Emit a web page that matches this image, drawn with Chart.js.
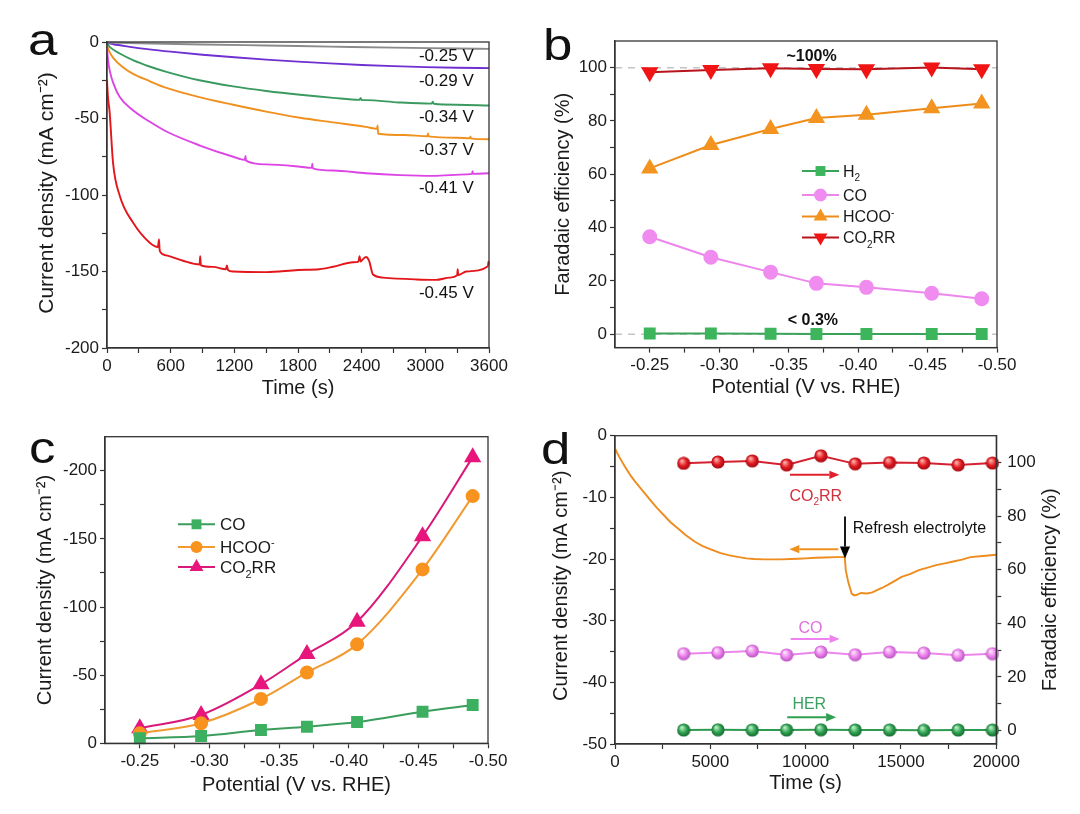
<!DOCTYPE html>
<html><head><meta charset="utf-8">
<script src="https://cdn.jsdelivr.net/npm/chart.js@4.4.1/dist/chart.umd.min.js"></script>
<style>
html,body{margin:0;padding:0;background:#fff;}
#wrap{position:relative;width:1080px;height:814px;overflow:hidden;font-family:'Liberation Sans',Arial,sans-serif;background:#fff;}
canvas{position:absolute;}
.lbl{position:absolute;font-family:'Liberation Sans',Arial,sans-serif;font-size:44px;line-height:1;color:#111;transform:scaleX(1.2);transform-origin:left top;}
</style></head><body><div id="wrap">
<canvas id="ca" width="540" height="400" style="left:0;top:0"></canvas>
<canvas id="cb" width="540" height="400" style="left:540px;top:0"></canvas>
<canvas id="cc" width="540" height="414" style="left:0;top:400px"></canvas>
<canvas id="cd" width="540" height="414" style="left:540px;top:400px"></canvas>
<div class="lbl" style="left:28px;top:18px">a</div>
<div class="lbl" style="left:543px;top:23px">b</div>
<div class="lbl" style="left:29px;top:426px">c</div>
<div class="lbl" style="left:541px;top:427px">d</div>
</div>
<script>
const FONT = "'Liberation Sans', Arial, Helvetica, sans-serif";

// ---------- Panel a: chronoamperometry ----------
const aT025 = [0, 300, 900, 1500, 2100, 2700, 3300, 3600];
const aJ025 = [-0.3, -0.8, -1.6, -2.3, -3.0, -3.7, -4.2, -4.5];
const aT029 = [0, 60, 200, 400, 600, 900, 1200, 1500, 1800, 2100, 2400, 2700, 3000, 3300, 3600];
const aJ029 = [-0.5, -1.5, -3, -4.8, -6.3, -8.3, -10, -11.5, -12.8, -14, -15, -15.8, -16.4, -16.8, -17.1];
const aT034 = [0, 30, 120, 250, 400, 560, 870, 1190, 1500, 1820, 2130, 2380, 2390, 2400, 2440, 2750, 3060, 3070, 3080, 3300, 3600];
const aJ034 = [-1, -3.5, -7.5, -12, -16, -19.5, -25, -29, -32, -34.5, -36.5, -37.8, -36.6, -37.9, -38, -39.5, -40.3, -39.0, -40.4, -41, -41.5];
const aT037 = [0, 20, 60, 150, 250, 400, 560, 870, 1190, 1500, 1820, 2130, 2440, 2545, 2550, 2555, 2800, 3020, 3025, 3030, 3300, 3420, 3425, 3430, 3600];
const aJ037 = [-2, -6, -10.5, -16.5, -21, -25.5, -30, -36, -41, -45.5, -49.5, -52.5, -55.5, -56.8, -54.5, -60, -60.8, -61.6, -59.8, -61.7, -62.6, -62.9, -61.8, -63, -63.6];
const aT041 = [0, 10, 30, 60, 120, 250, 400, 560, 870, 1190, 1300, 1305, 1310, 1500, 1820, 1930, 1935, 1940, 2130, 2440, 2760, 3070, 3390, 3440, 3445, 3450, 3600];
const aJ041 = [-4, -12, -20, -27, -36, -45, -52, -58.5, -67.5, -75, -77, -74.5, -77.5, -80, -81.5, -82.3, -79.5, -82.6, -84, -85.8, -87, -87.5, -86.5, -86.2, -84.5, -86.2, -85.8];
const aT045 = [0, 8, 25, 57, 120, 245, 400, 480, 490, 495, 500, 560, 716, 873, 878, 885, 1000, 1120, 1130, 1140, 1190, 1500, 1800, 2000, 2130, 2320, 2370, 2380, 2390, 2412, 2440, 2470, 2507, 2600, 2915, 3100, 3229, 3300, 3305, 3310, 3386, 3590, 3595, 3600];
const aJ045 = [-25, -35, -46, -79, -100.5, -118, -131, -134, -129, -135, -137, -139.5, -143, -145.4, -140, -146, -147, -148.5, -146, -149, -150, -150.4, -149, -148.5, -146.9, -144, -143.5, -140, -143.5, -142, -140.5, -143, -152, -154, -155.2, -155.5, -154, -152.5, -148.5, -152.3, -150, -146.5, -143.5, -145.5];
const aNames = ['-0.25 V', '-0.29 V', '-0.34 V', '-0.37 V', '-0.41 V', '-0.45 V'];
const aLabelT = [3198, 3198, 3198, 3198, 3198, 3198];
const aLabelJ = [-8.3, -24.5, -48.1, -70, -94.4, -163.3];
const aTimeTicks = [0, 300, 600, 900, 1200, 1500, 1800, 2100, 2400, 2700, 3000, 3300, 3600];
const aTimeLabels = [0, 600, 1200, 1800, 2400, 3000, 3600];
const jTicks200 = [-200, -175, -150, -125, -100, -75, -50, -25, 0];
const jLabels200 = [-200, -150, -100, -50, 0];

// ---------- Panel b / c: potentials ----------
const potentials = [-0.25, -0.294, -0.337, -0.370, -0.406, -0.453, -0.489];
const feH2 = [0.3, 0.3, 0.2, 0.1, 0.1, 0.1, 0.1];
const feCO = [36.6, 28.9, 23.3, 19.1, 17.6, 15.4, 13.3];
const feHCOO = [62.2, 71.0, 77.0, 81.1, 82.3, 84.8, 86.6];
const feCO2RR = [98.3, 99.1, 99.8, 99.5, 99.4, 100.1, 99.4];
const bRefLevels = [100, 0];
const bNames = ['H₂', 'CO', 'HCOO⁻', 'CO₂RR'];
const bLegendRich = ['H_2', 'CO', 'HCOO^-', 'CO_2RR'];
const potTicks = [-0.5, -0.475, -0.45, -0.425, -0.4, -0.375, -0.35, -0.325, -0.3, -0.275, -0.25];
const potLabels = [-0.25, -0.3, -0.35, -0.4, -0.45, -0.5];
const feTicks = [0, 10, 20, 30, 40, 50, 60, 70, 80, 90, 100];
const feLabels = [0, 20, 40, 60, 80, 100];

const jCO = [-3.7, -5.4, -9.8, -12.2, -15.6, -23.2, -28.1];
const jHCOO = [-7.3, -14.7, -32.5, -52.0, -72.6, -127.6, -181.4];
const jCO2RR = [-11.0, -20.8, -43.3, -65.5, -89.2, -152.0, -210.0];
const cNames = ['CO', 'HCOO⁻', 'CO₂RR'];
const cLegendRich = ['CO', 'HCOO^-', 'CO_2RR'];

// ---------- Panel d: stability ----------
const dTime = [0, 100, 217, 400, 578, 850, 1120, 1500, 1843, 2200, 2565, 2900, 3288, 3700, 4191, 4600, 5095, 5500, 5998, 6500, 6901, 7300, 7805, 8300, 8708, 9200, 9612, 10000, 10515, 11000, 11600, 12000, 12050, 12104, 12231, 12411, 12550, 12683, 12900, 13225, 13500, 13767, 14000, 14309, 14700, 15032, 15500, 15935, 16400, 16838, 17300, 17742, 18200, 18645, 19300, 20000];
const dJ = [-2.05, -2.7, -3.4, -4.4, -5.3, -6.6, -7.7, -9.1, -10.4, -11.7, -12.9, -14.0, -15.0, -16.1, -17.2, -17.9, -18.5, -19.0, -19.4, -19.7, -19.9, -20.0, -20.05, -20.05, -20.05, -20.0, -19.95, -19.9, -19.8, -19.75, -19.7, -19.65, -19.6, -21.8, -23.7, -25.6, -25.9, -25.8, -25.5, -25.6, -25.4, -25.0, -24.7, -24.2, -23.5, -22.9, -22.4, -21.8, -21.4, -21.0, -20.7, -20.4, -20.1, -19.7, -19.5, -19.3];
const dFeTime = [3600, 5400, 7200, 9000, 10800, 12600, 14400, 16200, 18000, 19800];
const dFeCO2RR = [99.7, 100.2, 100.6, 99.1, 102.5, 99.5, 100.0, 99.8, 99.1, 99.8];
const dFeCO = [28.7, 29.1, 29.7, 28.2, 29.3, 28.3, 29.3, 28.9, 28.1, 28.7];
const dFeHER = [0.2, 0.3, 0.2, 0.2, 0.3, 0.2, 0.2, 0.1, 0.2, 0.2];
const dTimeTicks = [0, 2500, 5000, 7500, 10000, 12500, 15000, 17500, 20000];
const dTimeLabels = [0, 5000, 10000, 15000, 20000];
const dJTicks = [-50, -45, -40, -35, -30, -25, -20, -15, -10, -5, 0];
const dJLabels = [-50, -40, -30, -20, -10, 0];

// ---------- helpers ----------
function pts(xs, ys) { return xs.map((x, i) => ({ x: x, y: ys[i] })); }

function axis(o) {
  return {
    type: 'linear', position: o.pos, min: o.min, max: o.max, reverse: !!o.reverse,
    afterBuildTicks: s => { s.ticks = o.ticks.map(v => ({ value: v })); },
    afterFit: s => { if (o.w != null) s.width = o.w; if (o.h != null) s.height = o.h; },
    ticks: {
      autoSkip: false, maxRotation: 0, minRotation: 0, padding: o.tpad != null ? o.tpad : 3,
      color: '#1a1a1a', font: { family: FONT, size: 17 },
      callback: v => o.labels.some(l => Math.abs(l - v) < 1e-9) ? o.fmt(v) : ''
    },
    grid: { drawOnChartArea: false, drawTicks: true, tickLength: 5, tickColor: '#333', tickWidth: 1.2 },
    border: { display: true, color: '#333', width: 1.3 },
    title: o.title ? { display: true, text: o.title, color: '#1a1a1a', font: { family: FONT, size: 20 },
      padding: { top: o.ttop || 0, bottom: o.tbot || 0 } } : { display: false }
  };
}

function drawRich(ctx, s, x, y, size, weight, color, align) {
  const segs = [];
  for (let i = 0; i < s.length; i++) {
    const c = s[i];
    if ((c === '_' || c === '^') && i + 1 < s.length) { segs.push({ t: s[i + 1], k: c }); i++; }
    else if (segs.length && segs[segs.length - 1].k === 'n') segs[segs.length - 1].t += c;
    else segs.push({ t: c, k: 'n' });
  }
  const f = k => (weight || 'normal') + ' ' + (k === 'n' ? size : Math.round(size * 0.62)) + 'px ' + FONT;
  let w = 0;
  segs.forEach(g => { ctx.font = f(g.k); g.w = ctx.measureText(g.t).width; w += g.w; });
  let cx = align === 'center' ? x - w / 2 : (align === 'right' ? x - w : x);
  ctx.save(); ctx.fillStyle = color; ctx.textBaseline = 'alphabetic'; ctx.textAlign = 'left';
  const base = y + size * 0.36;
  segs.forEach(g => {
    ctx.font = f(g.k);
    const dy = g.k === '_' ? size * 0.28 : (g.k === '^' ? -size * 0.42 : 0);
    ctx.fillText(g.t, cx, base + dy); cx += g.w;
  });
  ctx.restore();
}

function drawArrow(ctx, x1, y1, x2, y2, color, lw, head) {
  const ang = Math.atan2(y2 - y1, x2 - x1);
  const bx = x2 - Math.cos(ang) * head, by = y2 - Math.sin(ang) * head;
  ctx.save(); ctx.strokeStyle = color; ctx.fillStyle = color; ctx.lineWidth = lw;
  ctx.beginPath(); ctx.moveTo(x1, y1); ctx.lineTo(bx, by); ctx.stroke();
  const hw = head * 0.42;
  ctx.beginPath(); ctx.moveTo(x2, y2);
  ctx.lineTo(bx + Math.sin(ang) * hw, by - Math.cos(ang) * hw);
  ctx.lineTo(bx - Math.sin(ang) * hw, by + Math.cos(ang) * hw);
  ctx.closePath(); ctx.fill(); ctx.restore();
}

function drawMarker(ctx, style, x, y, r, rot, fill) {
  ctx.save(); ctx.fillStyle = fill; ctx.beginPath();
  if (style === 'rect') { const s = Math.SQRT1_2 * r; ctx.rect(x - s, y - s, 2 * s, 2 * s); }
  else if (style === 'circle') { ctx.arc(x, y, r, 0, Math.PI * 2); }
  else if (style === 'triangle') {
    const d = rot === 180 ? -1 : 1;
    ctx.moveTo(x, y - d * r);
    ctx.lineTo(x + r * Math.sin(Math.PI * 2 / 3), y + d * r * 0.5);
    ctx.lineTo(x - r * Math.sin(Math.PI * 2 / 3), y + d * r * 0.5);
    ctx.closePath();
  } else if (typeof style === 'object') { ctx.drawImage(style, x - style.width / 2, y - style.height / 2); ctx.restore(); return; }
  ctx.fill(); ctx.restore();
}

const boxPlugin = { id: 'box', afterDraw(chart) {
  const { ctx, chartArea: a } = chart;
  ctx.save(); ctx.strokeStyle = '#333'; ctx.lineWidth = 1.3;
  ctx.strokeRect(a.left, a.top, a.right - a.left, a.bottom - a.top); ctx.restore();
} };

const annotPlugin = { id: 'annot', afterDatasetsDraw(chart, args, opts) {
  const ctx = chart.ctx;
  (opts.arrows || []).forEach(a => {
    const xs = chart.scales.x, ys = chart.scales[a.yAxis || 'y'];
    drawArrow(ctx, xs.getPixelForValue(a.x1), ys.getPixelForValue(a.y1), xs.getPixelForValue(a.x2), ys.getPixelForValue(a.y2), a.color, a.lw || 2, a.head || 10);
  });
  (opts.texts || []).forEach(t => {
    const xs = chart.scales.x, ys = chart.scales[t.yAxis || 'y'];
    drawRich(ctx, t.text, xs.getPixelForValue(t.x), ys.getPixelForValue(t.y), t.size || 16, t.weight, t.color || '#111', t.align || 'center');
  });
} };

const insideLegend = { id: 'insideLegend', afterDatasetsDraw(chart, args, opts) {
  if (!opts.items) return;
  const ctx = chart.ctx, a = chart.chartArea;
  opts.items.forEach((it, i) => {
    const ds = chart.data.datasets[it.ds];
    const y = a.top + opts.rows[i];
    const x0 = a.left + opts.x0, x1 = x0 + opts.len;
    ctx.save(); ctx.strokeStyle = ds.borderColor; ctx.lineWidth = 2;
    ctx.beginPath(); ctx.moveTo(x0, y); ctx.lineTo(x1, y); ctx.stroke(); ctx.restore();
    drawMarker(ctx, ds.pointStyle, (x0 + x1) / 2, y, ds.pointRadius, ds.rotation || 0, ds.pointBackgroundColor);
    drawRich(ctx, it.text, x1 + opts.gap, y, opts.size || 16, 'normal', '#1a1a1a', 'left');
  });
} };

// vertical axis titles drawn reading bottom-to-top, with an optional shift along the axis
const sideTitles = { id: 'sideTitles', afterDraw(chart, args, opts) {
  (opts.items || []).forEach(it => {
    const ctx = chart.ctx, s = chart.scales[it.axis];
    const x = it.side === 'right' ? s.right - it.offset : s.left + it.offset;
    const y = (s.top + s.bottom) / 2 + (it.dy || 0);
    ctx.save(); ctx.translate(x, y); ctx.rotate(-Math.PI / 2);
    ctx.font = (it.size || 20) + 'px ' + FONT; ctx.fillStyle = '#1a1a1a';
    ctx.textAlign = 'center'; ctx.textBaseline = 'middle';
    ctx.fillText(it.text, 0, 0); ctx.restore();
  });
} };

Chart.register(boxPlugin, annotPlugin, insideLegend, sideTitles);

function baseOptions(pad, scales, plugins) {
  return {
    responsive: false, animation: false, events: [],
    layout: { padding: pad },
    scales: scales,
    plugins: Object.assign({ legend: { display: false }, tooltip: { enabled: false } }, plugins || {})
  };
}
const fmtInt = v => String(Math.round(v));
const fmt2 = v => v.toFixed(2);

// ---------- Chart a ----------
const aColors = ['#8a8a8a', '#7030d0', '#3a9a60', '#f0901e', '#dc44e4', '#e3161c'];
const aSeries = [[aT025, aJ025], [aT029, aJ029], [aT034, aJ034], [aT037, aJ037], [aT041, aJ041], [aT045, aJ045]];
new Chart(document.getElementById('ca'), {
  type: 'scatter',
  data: { datasets: aSeries.map((s, i) => ({
    label: aNames[i], data: pts(s[0], s[1]), showLine: true, borderColor: aColors[i],
    borderWidth: 1.9, pointRadius: 0, cubicInterpolationMode: 'monotone', clip: false })) },
  options: baseOptions({ top: 42, right: 51, left: 0, bottom: 0 }, {
    x: axis({ pos: 'bottom', min: 0, max: 3600, ticks: aTimeTicks, labels: aTimeLabels, fmt: fmtInt, h: 52, title: 'Time (s)', tbot: 0 }),
    y: axis({ pos: 'left', min: -200, max: 0, ticks: jTicks200, labels: jLabels200, fmt: fmtInt, w: 107 })
  }, {
    annot: { texts: aNames.map((n, i) => ({ x: aLabelT[i], y: aLabelJ[i], text: n, size: 17, color: '#111' })) },
    sideTitles: { items: [{ axis: 'y', side: 'left', offset: 47, dy: -2, size: 21, text: 'Current density (mA cm⁻²)' }] }
  })
});

// ---------- Chart b ----------
const bRefData = bRefLevels.map(v => pts([-0.225, -0.5], [v, v]));
new Chart(document.getElementById('cb'), {
  type: 'scatter',
  data: { datasets: [
    { label: bNames[0], data: pts(potentials, feH2), showLine: true, borderColor: '#3aa35a', borderWidth: 2, pointStyle: 'rect', pointRadius: 7, pointBackgroundColor: '#3cb55c', pointBorderColor: '#3cb55c', clip: false },
    { label: bNames[1], data: pts(potentials, feCO), showLine: true, borderColor: '#ec86ec', borderWidth: 2, pointStyle: 'circle', pointRadius: 6.5, pointBackgroundColor: '#f08cf0', pointBorderColor: '#f08cf0', clip: false },
    { label: bNames[2], data: pts(potentials, feHCOO), showLine: true, borderColor: '#ee8c1a', borderWidth: 2, pointStyle: 'triangle', pointRadius: 8, pointBackgroundColor: '#f39420', pointBorderColor: '#f39420', clip: false },
    { label: bNames[3], data: pts(potentials, feCO2RR), showLine: true, borderColor: '#b8141c', borderWidth: 2, pointStyle: 'triangle', rotation: 180, pointRotation: 180, pointRadius: 8, pointBackgroundColor: '#f01414', pointBorderColor: '#f01414', clip: false },
    { label: 'ref100', data: bRefData[0], showLine: true, borderColor: '#c4c4c4', borderWidth: 1.5, borderDash: [7, 6], pointRadius: 0 },
    { label: 'ref0', data: bRefData[1], showLine: true, borderColor: '#c4c4c4', borderWidth: 1.5, borderDash: [7, 6], pointRadius: 0 }
  ] },
  options: baseOptions({ top: 41, right: 83, left: 0, bottom: 0 }, {
    x: axis({ pos: 'bottom', min: -0.5, max: -0.225, reverse: true, ticks: potTicks, labels: potLabels, fmt: fmt2, h: 52.4, title: 'Potential (V vs. RHE)', tbot: 1 }),
    y: axis({ pos: 'left', min: -5, max: 110, ticks: feTicks, labels: feLabels, fmt: fmtInt, w: 75, title: 'Faradaic efficiency (%)', ttop: 11 })
  }, {
    annot: { texts: [
      { x: -0.3665, y: 104.8, text: '~100%', size: 16, weight: 'bold', color: '#111' },
      { x: -0.3675, y: 5.6, text: '< 0.3%', size: 16, weight: 'bold', color: '#111' }
    ] },
    insideLegend: { x0: 187, len: 37, gap: 4, size: 16, rows: [130, 154, 175.5, 196.5],
      items: bLegendRich.map((t, i) => ({ ds: i, text: t })) }
  })
});

// ---------- Chart c ----------
new Chart(document.getElementById('cc'), {
  type: 'scatter',
  data: { datasets: [
    { label: cNames[0], data: pts(potentials, jCO), showLine: true, borderColor: '#3a9d5c', borderWidth: 2, pointStyle: 'rect', pointRadius: 7, pointBackgroundColor: '#3cb060', pointBorderColor: '#3cb060', cubicInterpolationMode: 'monotone', clip: false },
    { label: cNames[1], data: pts(potentials, jHCOO), showLine: true, borderColor: '#f09a30', borderWidth: 2, pointStyle: 'circle', pointRadius: 6, pointBackgroundColor: '#f7931e', pointBorderColor: '#f7931e', cubicInterpolationMode: 'monotone', clip: false },
    { label: cNames[2], data: pts(potentials, jCO2RR), showLine: true, borderColor: '#d8187a', borderWidth: 2, pointStyle: 'triangle', pointRadius: 8, pointBackgroundColor: '#e8157c', pointBorderColor: '#e8157c', cubicInterpolationMode: 'monotone', clip: false }
  ] },
  options: baseOptions({ top: 36.7, right: 52, left: 0, bottom: 0 }, {
    x: axis({ pos: 'bottom', min: -0.5, max: -0.225, reverse: true, ticks: potTicks, labels: potLabels, fmt: fmt2, h: 70.7, title: 'Potential (V vs. RHE)', tbot: 17 }),
    y: axis({ pos: 'left', min: -225, max: 0, reverse: true, ticks: jTicks200, labels: jLabels200, fmt: fmtInt, w: 105, title: 'Current density (mA cm⁻²)', ttop: 33 })
  }, {
    insideLegend: { x0: 73, len: 37, gap: 5, size: 17, rows: [87.6, 110.3, 130.3],
      items: cLegendRich.map((t, i) => ({ ds: i, text: t })) }
  })
});

// ---------- Chart d ----------
function sphere(base, light, dark, d) {
  const c = document.createElement('canvas'); c.width = d; c.height = d;
  const g = c.getContext('2d'); const r = d / 2;
  const grd = g.createRadialGradient(r * 0.72, r * 0.62, r * 0.08, r, r, r);
  grd.addColorStop(0, light); grd.addColorStop(0.55, base); grd.addColorStop(1, dark);
  g.fillStyle = grd; g.beginPath(); g.arc(r, r, r - 0.4, 0, Math.PI * 2); g.fill();
  return c;
}
const ballRed = sphere('#e01820', '#ffb0a8', '#9a0a10', 14);
const ballPink = sphere('#ec80ec', '#fde6fd', '#b050b8', 14);
const ballGreen = sphere('#2ea050', '#b8f0c4', '#13642c', 14);

new Chart(document.getElementById('cd'), {
  type: 'scatter',
  data: { datasets: [
    { label: 'CO₂RR', data: pts(dFeTime, dFeCO2RR), yAxisID: 'y1', showLine: true, borderColor: '#d42030', borderWidth: 2, pointStyle: ballRed, pointRadius: 7, clip: false },
    { label: 'CO', data: pts(dFeTime, dFeCO), yAxisID: 'y1', showLine: true, borderColor: '#ec86ec', borderWidth: 2, pointStyle: ballPink, pointRadius: 7, clip: false },
    { label: 'HER', data: pts(dFeTime, dFeHER), yAxisID: 'y1', showLine: true, borderColor: '#2e9a50', borderWidth: 2, pointStyle: ballGreen, pointRadius: 7, clip: false },
    { label: 'Current density', data: pts(dTime, dJ), yAxisID: 'y', showLine: true, borderColor: '#ee8c1e', borderWidth: 1.9, pointRadius: 0, clip: false }
  ] },
  options: baseOptions({ top: 35.7, right: 0, left: 0, bottom: 0 }, {
    x: axis({ pos: 'bottom', min: 0, max: 20000, ticks: dTimeTicks, labels: dTimeLabels, fmt: fmtInt, h: 70, title: 'Time (s)', tbot: 19 }),
    y: axis({ pos: 'left', min: -50, max: 0, ticks: dJTicks, labels: dJLabels, fmt: fmtInt, w: 75 }),
    y1: axis({ pos: 'right', min: -5, max: 110, ticks: feTicks, labels: feLabels, fmt: fmtInt, w: 83.7, tpad: 6 })
  }, {
    sideTitles: { items: [
      { axis: 'y', side: 'left', offset: 21, dy: -4, size: 20, text: 'Current density (mA cm⁻²)' },
      { axis: 'y1', side: 'right', offset: 30, dy: 0, size: 20, text: 'Faradaic efficiency (%)' }
    ] },
    annot: {
      arrows: [
        { x1: 9180, y1: 95.4, x2: 11768, y2: 95.4, yAxis: 'y1', color: '#e0202a' },
        { x1: 12064, y1: -13.1, x2: 12064, y2: -19.9, yAxis: 'y', color: '#000000', lw: 1.8, head: 12 },
        { x1: 11713, y1: -18.4, x2: 9143, y2: -18.4, yAxis: 'y', color: '#f0901e' },
        { x1: 9214, y1: 34.2, x2: 11780, y2: 34.2, yAxis: 'y1', color: '#ee82ee' },
        { x1: 9033, y1: 5.0, x2: 11598, y2: 5.0, yAxis: 'y1', color: '#2ea050' }
      ],
      texts: [
        { x: 10533, y: 87.9, yAxis: 'y1', text: 'CO_2RR', size: 16, color: '#d2303c' },
        { x: 12468, y: -14.9, yAxis: 'y', text: 'Refresh electrolyte', size: 16, color: '#111', align: 'left' },
        { x: 10254, y: 38.4, yAxis: 'y1', text: 'CO', size: 16, color: '#e070e0' },
        { x: 10190, y: 10.3, yAxis: 'y1', text: 'HER', size: 16, color: '#3aa060' }
      ]
    }
  })
});
</script>
</body></html>
